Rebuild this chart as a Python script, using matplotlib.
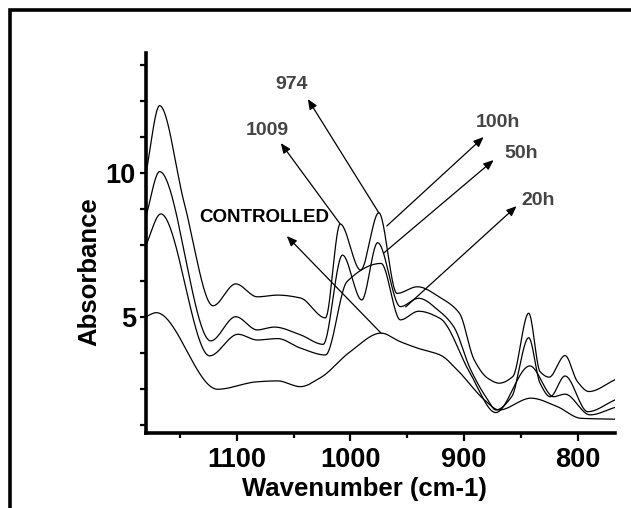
import numpy as np
import matplotlib
matplotlib.use("Agg")
import matplotlib.pyplot as plt
from matplotlib.patches import Rectangle
from matplotlib.ticker import FixedLocator, MultipleLocator

plt.rcParams['font.family'] = ['Liberation Sans', 'DejaVu Sans']
plt.rcParams['font.weight'] = 'bold'

# FTIR spectra (wavenumber in cm-1, absorbance) for each exposure time
wn_100h = [1180, 1168, 1146, 1121, 1101, 1082, 1064, 1044, 1022, 1009, 991, 975,
           959, 941, 920, 904, 891, 879, 869, 857, 843, 833, 825, 811, 800, 790, 767]
abs_100h = [10.0, 12.34, 8.9, 5.39, 6.15, 5.70, 5.76, 5.66, 4.97, 8.23, 6.63, 8.62,
            5.82, 6.05, 5.65, 5.13, 3.51, 2.87, 2.70, 2.93, 5.13, 3.10, 2.91, 3.66, 2.75, 2.41, 2.82]

wn_50h = [1180, 1168, 1123, 1101, 1082, 1067, 1044, 1024, 1007, 990, 976, 956,
          940, 921, 909, 894, 879, 872, 858, 843, 833, 824, 811, 791, 767]
abs_50h = [8.5, 10.05, 4.17, 5.01, 4.55, 4.65, 4.38, 4.05, 7.15, 5.59, 7.58, 5.36,
           5.65, 5.18, 4.66, 3.16, 2.12, 1.77, 2.23, 4.28, 2.70, 2.23, 2.95, 1.71, 2.12]

wn_20h = [1180, 1167, 1124, 1099, 1082, 1064, 1044, 1022, 1003, 973, 956, 940,
          921, 894, 872, 842, 821, 811, 789, 767]
abs_20h = [7.5, 8.58, 3.65, 4.40, 4.20, 4.25, 3.92, 3.68, 6.23, 6.86, 4.90, 5.2,
           4.95, 3.0, 1.68, 3.30, 2.23, 2.32, 1.60, 1.86]

wn_ctrl = [1180, 1171, 1117, 1082, 1064, 1044, 1026, 1000, 973, 956, 938, 921,
           903, 882, 869, 841, 818, 797, 767]
abs_ctrl = [5.01, 5.15, 2.49, 2.75, 2.78, 2.58, 2.9, 3.8, 4.44, 4.14, 3.88, 3.68,
            3.04, 2.12, 1.77, 2.18, 1.89, 1.48, 1.45]

# peak labels: text, label position, arrow head position, arrow tail on the curve
peak_labels = ["974", "1009"]
peak_text_xy = [(1052, 13.06), (1073, 11.49)]
peak_head_xy = [(1037.5, 12.57), (1061.3, 11.04)]
peak_tail_xy = [(975, 8.62), (1009, 8.23)]

series_labels = ["100h", "50h", "20h"]
series_text_xy = [(870, 11.77), (850, 10.69), (835, 9.06)]
series_head_xy = [(882.7, 11.25), (873.9, 10.45), (853.7, 8.85)]
series_tail_xy = [(968, 8.16), (970.7, 7.22), (951.3, 5.35)]

ctrl_label = "CONTROLLED"
ctrl_text_xy = (1076, 8.44)
ctrl_head_xy = (1056, 7.81)
ctrl_tail_xy = (973, 4.44)


def pchip(x, y, xs):
    # shape-preserving piecewise cubic Hermite interpolation
    order = np.argsort(x)
    x = np.asarray(x, float)[order]
    y = np.asarray(y, float)[order]
    h = np.diff(x)
    d = np.diff(y) / h
    m = np.zeros_like(y)
    for k in range(1, len(x) - 1):
        if d[k - 1] * d[k] > 0:
            w1 = 2 * h[k] + h[k - 1]
            w2 = h[k] + 2 * h[k - 1]
            m[k] = (w1 + w2) / (w1 / d[k - 1] + w2 / d[k])
    m[0] = d[0]
    m[-1] = d[-1]
    i = np.clip(np.searchsorted(x, xs) - 1, 0, len(x) - 2)
    t = (xs - x[i]) / h[i]
    h00 = 2 * t**3 - 3 * t**2 + 1
    h10 = t**3 - 2 * t**2 + t
    h01 = -2 * t**3 + 3 * t**2
    h11 = t**3 - t**2
    return h00 * y[i] + h10 * h[i] * m[i] + h01 * y[i + 1] + h11 * h[i] * m[i + 1]


fig = plt.figure(figsize=(6.31, 5.08), dpi=100)
ax = fig.add_axes([146 / 631, 75 / 508, 469 / 631, 380 / 508])

xs = np.linspace(767, 1180, 1200)
for wn, ab in [(wn_100h, abs_100h), (wn_50h, abs_50h), (wn_20h, abs_20h), (wn_ctrl, abs_ctrl)]:
    ax.plot(xs, pchip(wn, ab, xs), color='black', lw=0.9)

ax.set_xlim(1180, 767)
ax.set_ylim(0.97, 14.17)

for sp in ['top', 'right']:
    ax.spines[sp].set_visible(False)
for sp in ['left', 'bottom']:
    ax.spines[sp].set_linewidth(2.6)

ax.xaxis.set_major_locator(FixedLocator([1100, 1000, 900, 800]))
ax.xaxis.set_minor_locator(MultipleLocator(50))
ax.yaxis.set_major_locator(FixedLocator([5, 10]))
ax.yaxis.set_minor_locator(MultipleLocator(1.25))
ax.tick_params(axis='x', which='major', length=6, width=1.6, direction='out', labelsize=19.5, pad=4)
ax.tick_params(axis='x', which='minor', length=3.6, width=1.6, direction='out')
ax.tick_params(axis='y', which='both', length=4.3, width=1.6, direction='out', labelsize=19.5, pad=3)

ax.set_xlabel("Wavenumber (cm-1)", fontsize=18.5, fontweight='bold')
ax.set_ylabel("Absorbance", fontsize=18.5, fontweight='bold')
ax.xaxis.set_label_coords(0.465, -0.115)
ax.yaxis.set_label_coords(-0.095, 0.424)

arrow = dict(arrowstyle='-|>,head_length=0.6,head_width=0.25', color='black', lw=0.9,
             mutation_scale=10, shrinkA=0, shrinkB=0)

for txt, pos, head, tail in zip(peak_labels, peak_text_xy, peak_head_xy, peak_tail_xy):
    ax.text(pos[0], pos[1], txt, ha='center', va='center', fontsize=14, fontweight='bold', color='#444444')
    ax.annotate('', xy=head, xytext=tail, arrowprops=arrow)

for txt, pos, head, tail in zip(series_labels, series_text_xy, series_head_xy, series_tail_xy):
    ax.text(pos[0], pos[1], txt, ha='center', va='center', fontsize=14, fontweight='bold', color='#444444')
    ax.annotate('', xy=head, xytext=tail, arrowprops=arrow)

ax.text(ctrl_text_xy[0], ctrl_text_xy[1], ctrl_label, ha='center', va='center',
        fontsize=13.5, fontweight='bold', color='black')
ax.annotate('', xy=ctrl_head_xy, xytext=ctrl_tail_xy, arrowprops=arrow)

# outer frame
fig.patches.append(Rectangle((10 / 631, -0.2), 1.5, 1.2 - 10 / 508, transform=fig.transFigure,
                             fill=False, lw=2.6, edgecolor='black'))

fig.savefig("out.png", dpi=100)
